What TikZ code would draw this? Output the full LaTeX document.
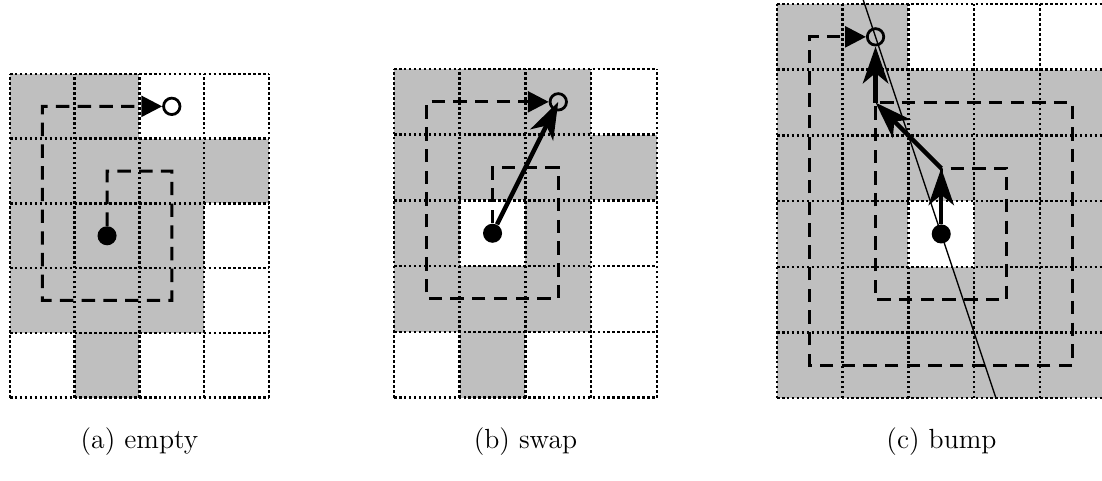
\documentclass[tikz,border=0pt]{standalone}
\usepackage{tikz}
\usetikzlibrary{positioning,arrows.meta,calc}
\tikzset{
  busy/.style={fill=black!25},
  cellgrid/.style={line width=1.1pt, dash pattern=on 1.1pt off 1.05pt},
  spiral/.style={line width=1.3pt, dash pattern=on 5.8pt off 3.6pt, -{Triangle[length=9pt, width=9pt]}},
  move/.style={line width=1.9pt, -{Stealth[length=16pt, width=11pt, inset=4.5pt]}},
  sightline/.style={line width=0.6pt},
  agent/.style={circle, fill=black, inner sep=0pt, minimum size=2.9mm},
  target/.style={circle, draw, line width=1.2pt, inner sep=0pt, minimum size=2.5mm},
  caption/.style={font=\fontsize{12}{14}\selectfont}
}

\begin{document}
\begin{tikzpicture}
  \path[use as bounding box] (0,0) rectangle (16.773,-7.306);
  \clip (0,0) rectangle (16.773,-7.306);

  % (a) empty
  \begin{scope}[shift={(0.152,-1.126)}, scale=0.985]
    \foreach \c/\r in {0/0,1/0,0/1,1/1,2/1,3/1,0/2,1/2,2/2,0/3,1/3,2/3,1/4}
      \fill[busy] (\c,-\r) rectangle ++(1,-1);
    \draw[cellgrid] (0,0) grid (4,-5);
    \foreach \c in {0,...,3}
      \foreach \r in {0,...,4}
        \coordinate (a-\c-\r) at (\c+0.5,-\r-0.5);
    \node[agent] (startA) at (a-1-2) {};
    \node[target] (goalA) at (a-2-0) {};
    \draw[spiral] (startA) -- (a-1-1) -- (a-2-1) -- (a-2-3) -- (a-0-3) -- (a-0-0) -- (goalA);
  \end{scope}

  % (b) swap
  \begin{scope}[shift={(5.997,-1.050)}]
    \foreach \c/\r in {0/0,1/0,2/0,0/1,1/1,2/1,3/1,0/2,2/2,0/3,1/3,2/3,1/4}
      \fill[busy] (\c,-\r) rectangle ++(1,-1);
    \draw[cellgrid] (0,0) grid (4,-5);
    \foreach \c in {0,...,3}
      \foreach \r in {0,...,4}
        \coordinate (b-\c-\r) at (\c+0.5,-\r-0.5);
    \node[agent] (startB) at (b-1-2) {};
    \node[target] (goalB) at (b-2-0) {};
    \draw[spiral] (startB) -- (b-1-1) -- (b-2-1) -- (b-2-3) -- (b-0-3) -- (b-0-0) -- (goalB);
    \draw[move] (startB) -- (goalB.center);
  \end{scope}

  % (c) bump
  \begin{scope}[shift={(11.826,-0.061)}]
    \fill[busy] (0,0) rectangle (2,-1);
    \fill[busy] (0,-1) rectangle (5,-6);
    \fill[white] (2,-3) rectangle (3,-4);
    \draw[cellgrid] (0,0) grid (5,-6);
    \foreach \c in {0,...,4}
      \foreach \r in {0,...,5}
        \coordinate (c-\c-\r) at (\c+0.5,-\r-0.5);
    \node[agent] (startC) at (c-2-3) {};
    \node[target] (goalC) at (c-1-0) {};
    \draw[sightline] ($(goalC)!-0.3!(startC)$) -- ($(goalC)!1.832!(startC)$);
    \draw[spiral] (startC) -- (c-2-2) -- (c-3-2) -- (c-3-4) -- (c-1-4) -- (c-1-1)
      -- (c-4-1) -- (c-4-5) -- (c-0-5) -- (c-0-0) -- (goalC);
    \draw[move] (startC) -- (c-2-2);
    \draw[move] (c-2-2) -- (c-1-1);
    \draw[move] (c-1-1) -- (goalC);
  \end{scope}

  \node[caption] (capA) at (2.123,-6.72) {(a) empty};
  \node[caption] (capB) at (7.998,-6.72) {(b) swap};
  \node[caption] (capC) at (14.33,-6.72) {(c) bump};
\end{tikzpicture}
\end{document}
